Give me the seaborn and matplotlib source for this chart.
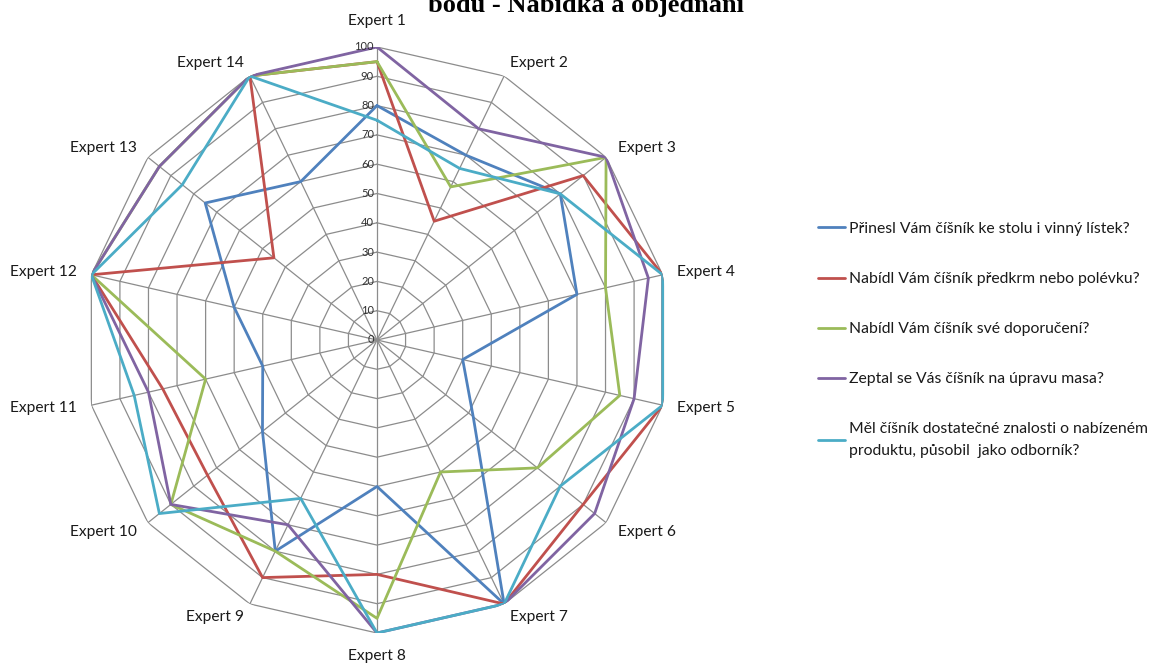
import numpy as np
import pandas as pd
import matplotlib
matplotlib.use("Agg")
import matplotlib.pyplot as plt
import seaborn as sns

# Categories (axes of the radar) and the five evaluated questions
experts = ["Expert 1", "Expert 2", "Expert 3", "Expert 4", "Expert 5",
           "Expert 6", "Expert 7", "Expert 8", "Expert 9", "Expert 10",
           "Expert 11", "Expert 12", "Expert 13", "Expert 14"]
questions = [
    "Přinesl Vám číšník ke stolu i vinný lístek?",
    "Nabídl Vám číšník předkrm nebo polévku?",
    "Nabídl Vám číšník své doporučení?",
    "Zeptal se Vás číšník na úpravu masa?",
    "Měl číšník dostatečné znalosti o nabízeném\nproduktu, působil  jako odborník?",
]

# Scores per expert for each question
wine_list = [80, 70, 80, 70, 30, 42, 100, 50, 80, 50, 40, 50, 75, 60]
starter = [95, 45, 90, 100, 100, 90, 100, 80, 90, 74, 75, 100, 45, 100]
recommendation = [95, 58, 100, 80, 85, 70, 50, 95, 80, 90, 60, 100, 95, 100]
meat = [100, 80, 100, 95, 90, 95, 100, 100, 70, 90, 80, 100, 95, 100]
expertise = [75, 65, 80, 100, 100, 80, 100, 100, 60, 95, 85, 100, 85, 100]

radial_ticks = [0, 10, 20, 30, 40, 50, 60, 70, 80, 90, 100]
title_line = "bodu - Nabídka a objednání"

colors = ["#4F81BD", "#C0504D", "#9BBB59", "#8064A2", "#4BACC6"]

sns.set_theme(style="white")
plt.rcParams["font.family"] = ["Lato", "DejaVu Sans"]

n = len(experts)
angles = np.linspace(0, 2 * np.pi, n, endpoint=False)
theta_closed = np.append(angles, 2 * np.pi)

# Long-form table, each series closed back to its first expert
rows = []
for q, vals in zip(questions, [wine_list, starter, recommendation, meat, expertise]):
    closed = list(vals) + [vals[0]]
    for t, v in zip(theta_closed, closed):
        rows.append({"question": q, "theta": t, "score": v})
df = pd.DataFrame(rows)

W, H = 1163, 666
cx, cy, R = 377, 340, 293
fig = plt.figure(figsize=(W / 100, H / 100), dpi=100)
ax = fig.add_axes([(cx - R) / W, (H - cy - R) / H, 2 * R / W, 2 * R / H],
                  projection="polar")
ax.set_theta_zero_location("N")
ax.set_theta_direction(-1)
ax.grid(False)
ax.spines["polar"].set_visible(False)
ax.patch.set_alpha(0)

# Polygonal web: rings and spokes
grid_color = "#8C8C8C"
for r in radial_ticks[1:]:
    ax.plot(theta_closed, [r] * (n + 1), color=grid_color, lw=0.9, zorder=1)
for t in angles:
    ax.plot([t, t], [0, radial_ticks[-1]], color=grid_color, lw=0.9, zorder=1)

sns.lineplot(data=df, x="theta", y="score", hue="question", hue_order=questions,
             palette=colors, sort=False, estimator=None, linewidth=2.0,
             ax=ax, zorder=3)

ax.set_ylim(0, 100)
ax.set_xticks([])
ax.set_yticks([])
ax.set_xlabel("")
ax.set_ylabel("")

# Radial scale labels along the first spoke
for r in radial_ticks:
    ax.annotate(str(r), xy=(0, r), xytext=(-3, 0), textcoords="offset pixels",
                ha="right", va="center", fontsize=8, color="#303030",
                annotation_clip=False, zorder=4)

# Expert labels around the web
for t, name in zip(angles, experts):
    s = np.sin(t)
    if abs(s) < 1e-6:
        r = 109 if np.cos(t) > 0 else 108
        ha = "center"
    else:
        r = 105
        ha = "left" if s > 0 else "right"
    ax.text(t, r, name, ha=ha, va="center", fontsize=11.2, color="#1a1a1a",
            clip_on=False)

# Legend on the right
leg = ax.get_legend()
handles = leg.legend_handles
labels = [t.get_text() for t in leg.get_texts()]
leg.remove()
for h in handles:
    h.set_linewidth(2.0)
fig_leg = fig.legend(handles, labels, loc="center left",
                     bbox_to_anchor=(818 / W, 1 - 340 / H), frameon=False,
                     fontsize=11.3, handlelength=1.75, handletextpad=0.2,
                     labelspacing=2.3, borderaxespad=0, borderpad=0)
for txt in fig_leg.get_texts():
    txt.set_linespacing(1.7)
    txt.set_color("#1a1a1a")

fig.text(586 / W, 1 - 12 / H, title_line, ha="center", va="baseline",
         fontsize=19, fontweight="bold", family=["Liberation Serif"],
         color="black")

fig.savefig("out.png", dpi=100, facecolor="white")
